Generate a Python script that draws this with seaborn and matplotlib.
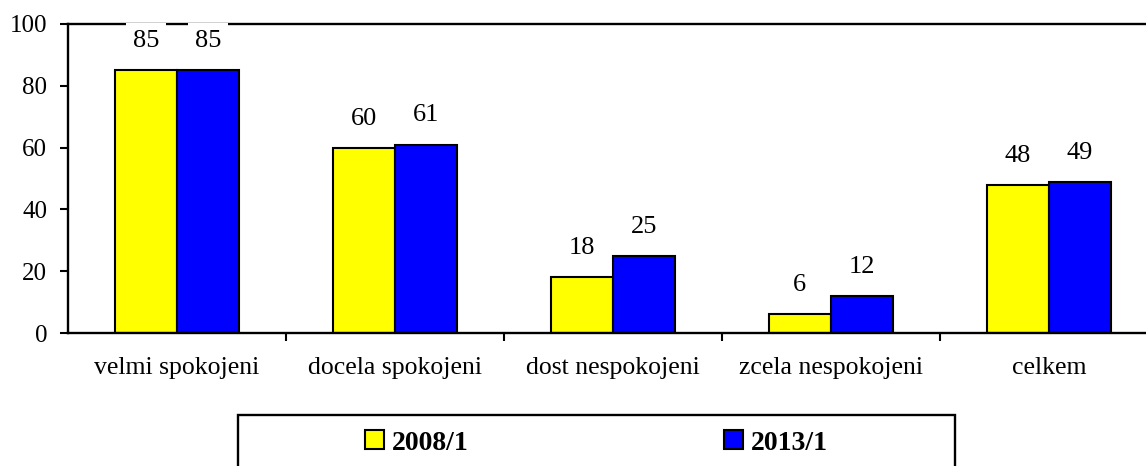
import pandas as pd
import matplotlib
matplotlib.use("Agg")
import matplotlib.pyplot as plt
from matplotlib.patches import Patch, Rectangle
import seaborn as sns

kategorie = ["velmi spokojeni", "docela spokojeni", "dost nespokojeni", "zcela nespokojeni", "celkem"]
obdobi = ["2008/1", "2013/1"]
hodnoty_2008 = [85, 60, 18, 6, 48]
hodnoty_2013 = [85, 61, 25, 12, 49]
barvy = ["#FFFF00", "#0000FF"]

sns.set_theme(style="ticks")
plt.rcParams["font.family"] = ["Liberation Serif", "DejaVu Serif"]
plt.rcParams["text.color"] = "black"
plt.rcParams["xtick.color"] = "black"
plt.rcParams["ytick.color"] = "black"

df = pd.DataFrame({
    "kategorie": kategorie * 2,
    "obdobi": [obdobi[0]] * len(kategorie) + [obdobi[1]] * len(kategorie),
    "hodnota": hodnoty_2008 + hodnoty_2013,
})

W, H = 1146, 466
fig = plt.figure(figsize=(W / 100, H / 100), dpi=100)
# right edge of the plot area lies just outside the image, as in the original
ax = fig.add_axes([68 / W, 133 / H, 1090 / W, 309 / H])

sns.barplot(data=df, x="kategorie", y="hodnota", hue="obdobi", palette=barvy,
            saturation=1, width=0.57, edgecolor="black", linewidth=1.5,
            legend=False, ax=ax)

ax.set_ylim(0, 100)
ax.set_xlim(-0.5, len(kategorie) - 0.5)
ax.set_yticks(range(0, 101, 20))
ax.set_xlabel("")
ax.set_ylabel("")

for sp in ["left", "bottom", "top", "right"]:
    ax.spines[sp].set_linewidth(1.7)
    ax.spines[sp].set_color("black")

ax.tick_params(axis="y", direction="out", length=6, width=1.5, labelsize=18, pad=9,
               colors="black", labelcolor="black")
ax.tick_params(axis="x", which="major", length=0, labelsize=18.5, pad=17, labelcolor="black")
ax.set_xticks([i + 0.5 for i in range(len(kategorie) - 1)], minor=True)
ax.tick_params(axis="x", which="minor", direction="out", length=6, width=1.5, color="black")

for cont in ax.containers:
    ax.bar_label(cont, padding=13, fontsize=19, color="black",
                 bbox=dict(boxstyle="square,pad=0.27", facecolor="white", edgecolor="none"))

handles = [Patch(facecolor=c, edgecolor="black", linewidth=1.5, label=l) for c, l in zip(barvy, obdobi)]
fig.legend(handles=handles, loc="center left", bbox_to_anchor=(365 / W, 1 - 443 / H),
           ncol=2, frameon=False, borderpad=0, borderaxespad=0, labelcolor="black",
           prop={"weight": "bold", "size": 20}, handlelength=0.68, handleheight=0.68,
           handletextpad=0.3, columnspacing=9.18)
fig.patches.append(Rectangle((238 / W, -0.1), (955 - 238) / W, 0.1 + 1 - 415 / H,
                             transform=fig.transFigure, fill=False, edgecolor="black",
                             linewidth=1.7, clip_on=False))

fig.savefig("out.png", dpi=100)
